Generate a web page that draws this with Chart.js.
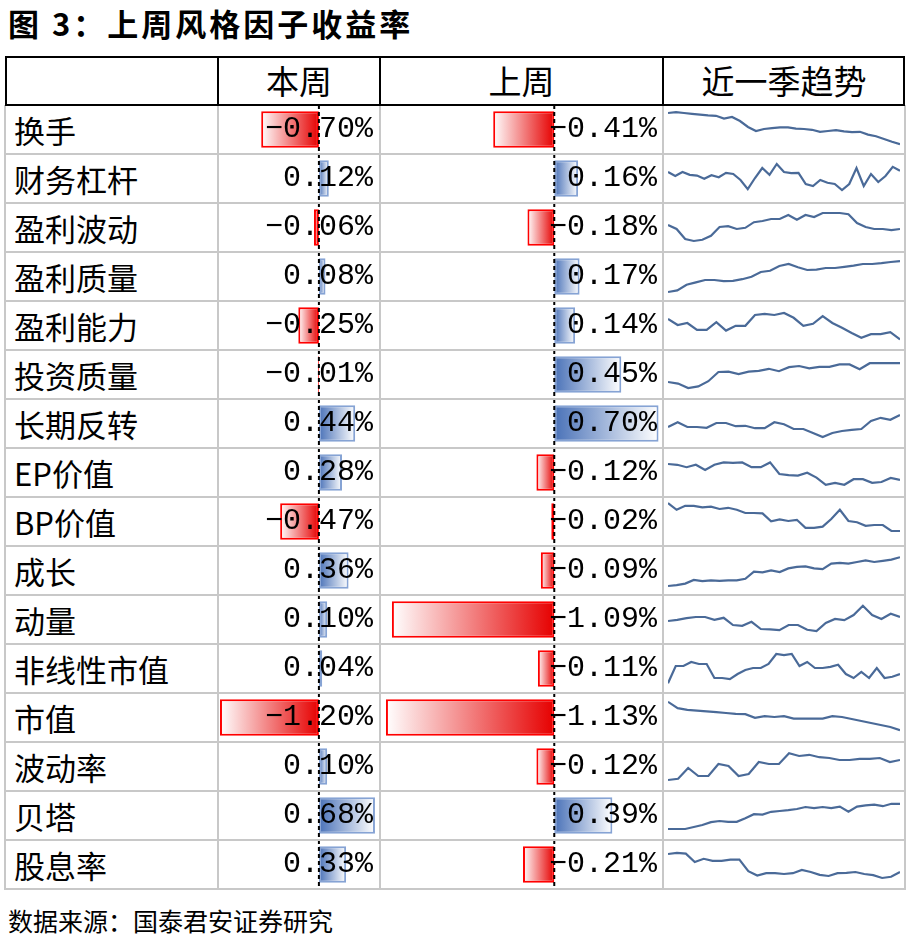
<!DOCTYPE html>
<html><head><meta charset="utf-8">
<script src="https://cdn.jsdelivr.net/npm/chart.js@4"></script>
<style>
body{margin:0;background:#fff;width:916px;height:945px;position:relative;font-family:"Noto Sans CJK SC",sans-serif;overflow:hidden}
.abs{position:absolute;box-sizing:border-box}
.title{left:8px;top:0px;font-size:31px;font-weight:bold;letter-spacing:3px}
.src{left:8px;top:902px;font-size:25px}
.hd{font-size:33px;text-align:center;line-height:46px;top:57px;height:48px}
.name{left:14px;font-size:31px;line-height:49px}
.val{font-family:"Liberation Mono",monospace;font-size:30px;line-height:49px;text-align:right;z-index:3}
.hl{height:2px;background:#c8c8c8;left:5px;width:900px;z-index:4}
.vl{width:2px;background:#c8c8c8;z-index:4}
</style></head><body>
<div class="abs title">图 3：上周风格因子收益率</div>
<div id="grid"></div>
<div class="abs src">数据来源：国泰君安证券研究</div>
<script>
// 因子名称与收益率（%）
const factors = ["换手","财务杠杆","盈利波动","盈利质量","盈利能力","投资质量","长期反转","EP价值","BP价值","成长","动量","非线性市值","市值","波动率","贝塔","股息率"];
const thisWeek = [-0.70,0.12,-0.06,0.08,-0.25,-0.01,0.44,0.28,-0.47,0.36,0.10,0.04,-1.20,0.10,0.68,0.33];
const lastWeek = [-0.41,0.16,-0.18,0.17,0.14,0.45,0.70,-0.12,-0.02,-0.09,-1.09,-0.11,-1.13,-0.12,0.39,-0.21];
const headers = ["本周","上周","近一季趋势"];

// 近一季趋势（相对走势，肉眼估读）
const trends = [
  [9,9.2,9,8.8,8.6,8.4,8.3,7.6,8,7,5.5,4.5,5,5.2,5.4,5.4,5.1,5,4.8,4.3,4.5,4.7,4.4,4.2,4.3,3.6,3.2,2.5,1.8,1.2],
  [6.5,5.5,6.5,5.8,5.6,4.8,5.7,5.2,6.3,6,4.5,2.2,5,7.5,5.8,8.5,6.5,6.2,6.3,3.5,3,4.5,3.8,3.5,2,3.5,7.5,3,6,4,5.5,7.8,6.8],
  [5.5,4.5,2,1.5,1.8,2.8,5,5.2,4.5,4.8,6.2,6.5,7,7,8,6.8,8,7.5,8.5,8.5,8.5,8.2,6,5,4.5,4.5,4.2,4.5],
  [1,1.4,2.8,3.4,4,4,3.7,3.8,4.2,4.8,6,6.3,7.5,8,7.2,6.5,6.6,7,7,7.3,7.6,8,8,8.2,8.5,8.7],
  [6.5,5,5.5,3.8,3.8,5.7,3.6,4.8,4.8,7.5,7.8,7.5,8,6.8,4.8,5.3,7.2,5.5,4.3,3,1.8,2.7,2.7,3.2,1.4],
  [3,2.6,1.5,1.9,3.2,5.5,5.6,5,5.6,5.8,6.3,5.7,6.7,7,6.4,6.8,6.8,7.4,7.4,6.2,7.7,7.7,7.7,7.7],
  [4,5.2,4,4,3.8,5,5,4.2,4.3,3.7,3.7,5.2,4.7,3.5,3.5,2.5,1.5,2.5,3,3.3,3.5,5.5,6.3,5.8,7],
  [7,6.8,6.2,6.8,5.5,6.8,7.4,7.3,7.4,6.2,6.2,7.4,4.5,4.2,4.1,4.8,3.6,1.8,2.3,1.8,3.2,3.2,2.3,2.5,3.5,3],
  [9.5,7.8,8.8,8.8,8.4,8.6,8,8.3,7.8,7,7,6.9,4.9,5.4,5,5.3,3.3,3.3,3.6,5.5,7.8,5,4.7,3.8,4,4,2.5,2.5],
  [1,1.2,1.6,2.5,2.2,2.4,2.3,2.4,2.4,2.8,4.6,4.4,4.9,4.5,5.4,5.8,5.9,5.4,5.2,6.6,6.8,6.6,7,7.4,7,7.3,7.6,8.2],
  [4.5,4.8,5.2,5.5,5.5,4.8,5.3,3.5,3.3,4.3,2.5,2.4,2.2,3.5,3.5,2.3,2,4,5,4.7,6,8.3,6,5,6.3,5.5],
  [1.2,5.5,5.5,6.5,6,6,2.5,2.5,2.2,3.5,4.5,5,5,6,8.5,8.2,8.5,5.5,6.5,5,5,5.3,5.8,3.5,2.5,4,2.5,5,2.5,2.8,3.5],
  [8.8,7.2,6.8,6.6,6.4,6.2,6,5.8,5.7,4.8,5.2,5,5.2,4.6,4.6,4.6,4.6,5.2,5,4.5,4,3.5,3,2.5,1.7],
  [1.5,1.8,4.5,2.5,2.5,5.5,5,2.5,3,6,5.5,5.5,8.2,7.5,7.8,7.2,7,6.5,6.5,6.8,6.8,7,6,6.5],
  [1.5,1.5,1.5,2,2.5,3.2,3.5,3.3,3.3,4.2,5.2,5.1,5.8,6,6.2,6.5,7,6.7,7,6.7,7.1,5.8,7.1,7.4,7.6,7.2,7.8,7.8],
  [7.5,7.8,7.6,5.5,6.3,5.8,5.8,6.1,6.1,3.2,2.1,2.7,2.7,2.5,2.7,3.5,3,2.3,2,2.7,2.8,3,2.5,2.2,1.5,1.8,3]
];

const colX = [5,218,380,663,905];
const top0 = 105, rowH = 49;
const g = document.getElementById('grid');
function box(cls, css, html) {
  const d = document.createElement('div');
  d.className = 'abs ' + cls;
  Object.assign(d.style, css);
  if (html !== undefined) d.textContent = html;
  g.appendChild(d);
  return d;
}

// header + frame
box('', {left:'5px',top:'56px',width:'900px',height:'50px',border:'2px solid #000',zIndex:5});
headers.forEach((h, i) => box('hd', {left: colX[i+1]+'px', width: (colX[i+2]-colX[i+1])+'px'}, h));
for (let i = 1; i < 4; i++) box('', {left:(colX[i]-1)+'px',top:'56px',width:'2px',height:'50px',background:'#000',zIndex:5});
for (let i = 0; i < 5; i++) box('vl', {left:(colX[i]-1)+'px',top:top0+'px',height:(rowH*16+1)+'px'});
for (let r = 1; r <= 16; r++) box('hl', {top:(top0+r*rowH-1)+'px'});

factors.forEach((f, i) => {
  const y = top0 + i*rowH;
  box('name', {top:y+'px'}, f);
  const fmt = v => (v < 0 ? '−' : '') + Math.abs(v).toFixed(2) + '%';
  box('val', {top:y+'px', left:'218px', width:'155px'}, fmt(thisWeek[i]));
  box('val', {top:y+'px', left:'380px', width:'277px'}, fmt(lastWeek[i]));
});

const zeroLine = {
  id: 'zeroLine',
  afterDatasetsDraw(chart) {
    const x = chart.scales.x.getPixelForValue(0), c = chart.ctx;
    c.save(); c.setLineDash([4,3]); c.strokeStyle = '#000'; c.lineWidth = 2;
    c.beginPath(); c.moveTo(x, chart.chartArea.top); c.lineTo(x, chart.chartArea.bottom); c.stroke();
    c.restore();
  }
};

function barChart(data, left, width, min, max) {
  const cv = document.createElement('canvas');
  const wrap = box('', {left:left+'px', top:top0+'px', width:width+'px', height:(rowH*16)+'px', zIndex:2});
  wrap.appendChild(cv);
  new Chart(cv, {
    type: 'bar',
    data: {labels: factors, datasets: [{
      data,
      backgroundColor: ctx => {
        const ch = ctx.chart, a = ch.chartArea;
        if (!a) return '#fff';
        const v = ctx.raw, sx = ch.scales.x;
        const x0 = sx.getPixelForValue(0), x1 = sx.getPixelForValue(v);
        if (Math.abs(x1 - x0) < 1) return v < 0 ? '#e00000' : '#4a72b8';
        const gr = ch.ctx.createLinearGradient(x0, 0, x1, 0);
        gr.addColorStop(0, v < 0 ? '#e60000' : '#4a72b8');
        gr.addColorStop(1, '#ffffff');
        return gr;
      },
      borderColor: data.map(v => v < 0 ? '#ff0000' : '#86a3d4'),
      borderWidth: 2,
      borderSkipped: false,
      barPercentage: 0.74,
      categoryPercentage: 1
    }]},
    options: {
      indexAxis: 'y', responsive: true, maintainAspectRatio: false, animation: false,
      layout: {padding: 0},
      plugins: {legend: {display: false}, tooltip: {enabled: false}},
      scales: {x: {display: false, min, max}, y: {display: false}}
    },
    plugins: [zeroLine]
  });
}
barChart(thisWeek, 218, 162, -1.224, 0.741);
barChart(lastWeek, 380, 283, -1.17, 0.73);

trends.forEach((t, i) => {
  const wrap = box('', {left:'668px', top:(top0+i*rowH+4)+'px', width:'232px', height:(rowH-9)+'px', zIndex:2});
  const cv = document.createElement('canvas');
  wrap.appendChild(cv);
  new Chart(cv, {
    type: 'line',
    data: {labels: t.map((_, k) => k), datasets: [{data: t, borderColor: '#4a6a98', borderWidth: 2.2, pointRadius: 0, tension: 0}]},
    options: {
      responsive: true, maintainAspectRatio: false, animation: false,
      plugins: {legend: {display: false}, tooltip: {enabled: false}},
      scales: {x: {display: false}, y: {display: false, min: 0, max: 10}}
    }
  });
});
</script>
</body></html>
